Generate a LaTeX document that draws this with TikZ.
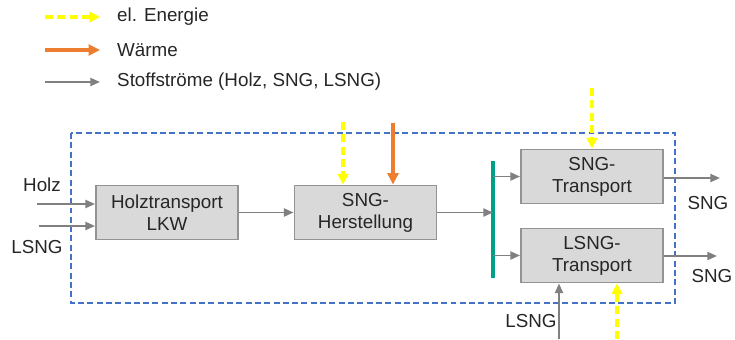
\documentclass[tikz,border=0pt]{standalone}
\usepackage{fontspec}
\setmainfont{Liberation Sans}
\usepackage{xcolor}
\usepackage{tikz}
\usetikzlibrary{arrows.meta,positioning,calc}
\definecolor{FlowGray}{HTML}{808080}
\definecolor{BoxGray}{HTML}{D9D9D9}
\definecolor{ElYellow}{HTML}{FFFF00}
\definecolor{HeatOrange}{HTML}{ED7D31}
\definecolor{BarGreen}{HTML}{00A088}
\definecolor{FrameBlue}{HTML}{4472C4}
\definecolor{TextDark}{HTML}{262626}
\begin{document}
\begin{tikzpicture}[
    x=0.2mm, y=-0.2mm,
    every node/.style={font=\fontsize{10.7}{12.5}\selectfont, text=TextDark},
    proc/.style={draw=FlowGray!85, fill=BoxGray, line width=1.1pt, inner sep=0pt,
                 minimum width=28.4mm, minimum height=10.8mm, align=center},
    flow/.style={-{Triangle[length=5.5pt,width=4.6pt]}, FlowGray, line width=1.1pt},
    energy/.style={-{Triangle[length=6pt,width=6pt]}, ElYellow, line width=1.8pt,
                   dash pattern=on 4.5pt off 2.5pt},
    heat/.style={-{Triangle[length=6.5pt,width=6.2pt]}, HeatOrange, line width=2.2pt},
    frame/.style={FrameBlue, line width=1.1pt, dash pattern=on 3.4pt off 1.9pt},
    bar/.style={BarGreen, line width=1.8pt},
  ]
    \useasboundingbox (0,0) rectangle (735,339);

    \coordinate (le1) at (45,17);  \coordinate (le1e) at (100,17);
    \coordinate (le2) at (45,50);  \coordinate (le2e) at (100,50);
    \coordinate (le3) at (45,82);  \coordinate (le3e) at (100,82);
    \draw[energy] (le1) -- (le1e);
    \draw[heat]   (le2) -- (le2e);
    \draw[flow]   (le3) -- (le3e);
    \node[anchor=west] (lt1) at (111,17) {el. Energie};
    \node[anchor=west] (lt2) at (111,50) {Wärme};
    \node[anchor=west] (lt3) at (111,82) {Stoffströme (Holz, SNG, LSNG)};

    \coordinate (frtl) at (71,133);
    \coordinate (frbr) at (675,303);
    \draw[frame] (frtl) rectangle (frbr);

    \node[proc] (holz)  at (167,212.5)   {Holztransport\\LKW};
    \node[proc] (herst) at (365.5,212.5) {SNG-\\Herstellung};
    \node[proc] (sngt)  at (592,176.5)   {SNG-\\Transport};
    \node[proc] (lsngt) at (592,255.5)   {LSNG-\\Transport};

    \coordinate (bartop) at (493,161);
    \coordinate (barbot) at (493,278);
    \draw[bar] (bartop) -- (barbot);

    \coordinate (holzin) at (37,204);
    \coordinate (lsngin) at (39,226);
    \draw[flow] (holzin) -- (holzin -| holz.west);
    \draw[flow] (lsngin) -- (lsngin -| holz.west);
    \node (lholz) at (42,185) {Holz};
    \node (llsng) at (37,247) {LSNG};

    \draw[flow] (holz) -- (herst);
    \draw[flow] (herst.east) -- (herst.east -| bartop);
    \draw[flow] (sngt.west -| bartop) -- (sngt.west);
    \draw[flow] (lsngt.west -| bartop) -- (lsngt.west);

    \coordinate (elherst) at (343,122);
    \coordinate (heatherst) at (393,123);
    \draw[energy] (elherst) -- (elherst |- herst.north);
    \draw[heat] (heatherst) -- (heatherst |- herst.north);

    \coordinate (elsngt) at (592,88);
    \draw[energy] (elsngt) -- (sngt.north);

    \coordinate (sngout) at (720,178);
    \coordinate (lsngout) at (717,256);
    \draw[flow] (sngout -| sngt.east) -- (sngout);
    \draw[flow] (lsngout -| lsngt.east) -- (lsngout);
    \node (lsng1) at (708,203) {SNG};
    \node (lsng2) at (712,276) {SNG};

    \coordinate (lsngbot) at (559,339);
    \coordinate (elbot) at (617,339);
    \draw[flow] (lsngbot) -- (lsngbot |- lsngt.south);
    \draw[energy] (elbot) -- (elbot |- lsngt.south);
    \node (llsngb) at (531,321) {LSNG};
  \end{tikzpicture}
\end{document}
